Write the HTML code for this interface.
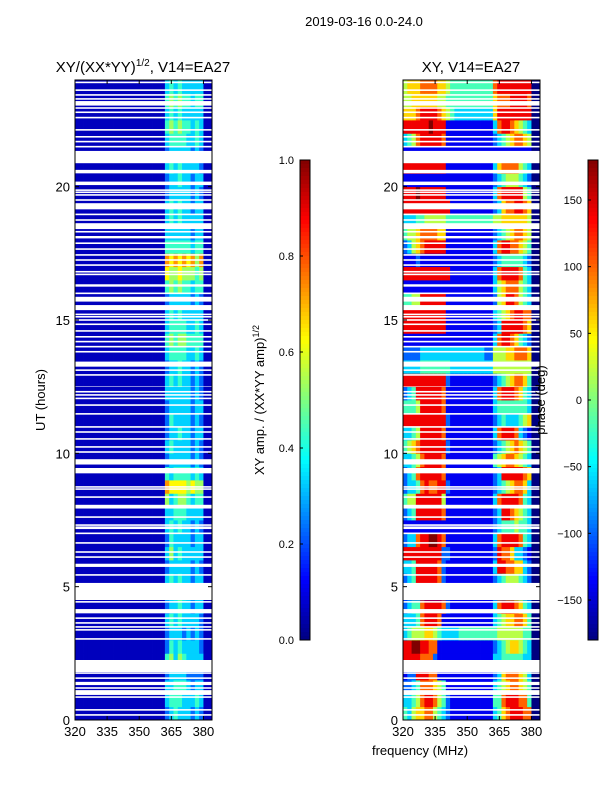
<!DOCTYPE html>
<html><head><meta charset="utf-8"><style>
body{margin:0;background:#fff;font-family:"Liberation Sans",sans-serif}
svg text{font-family:"Liberation Sans",sans-serif;fill:#000}
</style></head><body>
<svg id="fig" width="600" height="800" viewBox="0 0 600 800" xmlns="http://www.w3.org/2000/svg">
<rect width="600" height="800" fill="#fff"/>
<text x="364" y="26" font-size="13" text-anchor="middle">2019-03-16 0.0-24.0</text>
<text x="143" y="72" font-size="15" text-anchor="middle">XY/(XX*YY)<tspan dy="-6" font-size="10">1/2</tspan><tspan dy="6">, V14=EA27</tspan></text>
<text x="471" y="72" font-size="15" text-anchor="middle">XY, V14=EA27</text>
<text x="420" y="755" font-size="13" text-anchor="middle">frequency (MHz)</text>
<text transform="translate(45,400) rotate(-90)" font-size="13" text-anchor="middle">UT (hours)</text>
<text transform="translate(264,400) rotate(-90)" font-size="13" text-anchor="middle">XY amp. / (XX*YY amp)<tspan dy="-5" font-size="9">1/2</tspan></text>
<g id="lp"></g><g id="rp"></g><g id="cb"></g>
<text transform="translate(545,400) rotate(-90)" font-size="13" text-anchor="middle">phase (deg)</text>
</svg>
<script>
const freqMin = 320, freqMax = 384, hourMin = 0, hourMax = 24;
const xTicks = [320, 335, 350, 365, 380];
const yTicks = [0, 5, 10, 15, 20];
const ampTicks = [0.0, 0.2, 0.4, 0.6, 0.8, 1.0];
const phaseTicks = [-150, -100, -50, 0, 50, 100, 150];
// amplitude grid: rows 0.5h from 0h, 32 cols of 2MHz; 21 dark + 11 digits
const ampRows = ["34544434300","45554445400","44555434400","34444333300","56465444400","35454444300","34443434300","45454444300","34454434400","44565444400","45454434400","34444434300","46454444400","35444434400","45454434300","44555444400","64566545500","87777676600","54555545400","34444434300","45444434300","34454434400","35444434300","34444434400","44444434300","45454434300","34454434300","45555445400","56566555500","45555445400","45454444400","34444434300","56565545500","76676665600","87878786800","55555545500","44444434400","45454444400","45454434400","34444434300","34454434400","45454444300","34444434300","45555445400","56565545400","45454444400","56565545500","45454444400"];
const ampPrefix = "000000000000000000000";
// phase grid: digit d -> d*40-180 deg
const phaseRows = ["4356677543211 11111111 346788877 00","3345788754211 11111111 447888774 00","2234777654111 11111111 345677654 00","1228887711111 11111111 236777653 00","8888777211111 11111111 334444433 00","8899887711111 11111111 234566543 00","3455566543333 44444444 455555544 00","3334788871111 11111111 345667764 00","2344788887211 11111111 378887643 00","1111111111111 11111111 123444321 00","2348888872111 11111111 234555432 00","3348888872111 11111111 388776632 00","8888888882211 11111111 287763321 00","2337889987111 11111111 378888743 00","1111111111111 11111111 234445443 00","2348888887111 11111111 238876543 00","4558888885111 11111111 378888743 00","2334787788211 11111111 234567763 00","2347888887111 11111111 238888876 00","3345788887111 11111111 456776543 00","4567888888211 11111111 234567654 00","3345888887111 11111111 378887321 00","8888888888211 11111111 234333456 00","4445888887111 11111111 344444443 00","2348888887111 11111111 378887643 00","8888888888211 11111111 234567764 00","3333444444433 33333333 555555555 00","2222333333333 33333322 555667776 00","1111111111111 11111111 378876432 00","8888888888111 11111111 238888876 00","8888888888111 11111111 345678877 00","4455888888111 11111111 256887543 00","1111111111111 11111111 356777543 00","8888888888811 11111111 378888743 00","1112111111111 11111111 234444432 00","2356788888111 11111111 378877654 00","4556777766111 11111111 234567765 00","3334455555444 44444444 556666665 00","8888888888811 11111111 236778876 00","8889888888111 11111111 378888854 00","1111111111111 11111111 234555432 00","8888888888111 11111111 367777543 00","1111111111111 11111111 111111111 00","3457888887111 11111111 234567765 00","8888889888111 11111111 378876543 00","6667888876543 33333333 688888888 00","5566666655444 44444444 677788887 00","5666777766544 44444444 788888888 00"];
// flagged (white) intervals in hours
const flagWide = [[0.94,1.12],[1.31,1.43],[1.8,2.25],[4.0,4.16],[4.5,5.14],[5.74,5.86],[7.16,7.26],[7.93,8.07],[9.58,9.78],[9.25,9.45],[12.5,12.52],[13.25,13.44],[15.37,15.56],[15.69,15.87],[16.25,16.34],[18.06,18.15],[18.41,18.63],[19.15,19.38],[20.06,20.19],[20.5,20.63],[20.88,21.34],[23.04,23.21]];
const flagThin = [0.19,0.38,0.86,1.2,1.57,1.76,3.04,3.38,3.49,3.64,3.82,4.43,5.44,6.11,6.3,6.64,7.0,7.31,7.61,8.36,8.66,8.74,10.05,10.24,10.54,10.8,10.99,11.48,11.81,12.06,12.19,12.31,12.94,13.12,13.81,14.0,14.19,14.37,14.59,14.84,15.0,15.12,15.21,16.0,16.71,16.81,17.06,17.25,17.44,17.66,17.88,18.31,18.75,18.96,19.5,19.69,19.79,19.87,21.5,21.69,21.87,22.13,22.59,22.79,22.95,23.1,23.29,23.44,23.62,23.91];

const NS="http://www.w3.org/2000/svg";
function jet(v){v=Math.max(0,Math.min(1,v));const c=x=>Math.round(255*Math.max(0,Math.min(1,x)));
 return `rgb(${c(1.5-Math.abs(4*v-3))},${c(1.5-Math.abs(4*v-2))},${c(1.5-Math.abs(4*v-1))})`;}
function mk(parent,tag,attrs){const e=document.createElementNS(NS,tag);for(const k in attrs)e.setAttribute(k,attrs[k]);parent.appendChild(e);return e;}
const PT=80,PB=720;
const yS=h=>PB-(h-hourMin)/(hourMax-hourMin)*(PB-PT);
function drawPanel(g,x0,rows,valFn,name){
  const W=137,xS=f=>x0+(f-freqMin)/(freqMax-freqMin)*W;
  const nR=rows.length,dh=(hourMax-hourMin)/nR;
  rows.forEach((row,i)=>{
    const s=row.replace(/ /g,'');const n=s.length,df=(freqMax-freqMin)/n;
    for(let j=0;j<n;j++){
      const r=mk(g,'rect',{x:xS(freqMin+j*df),y:yS(hourMin+(i+1)*dh),width:xS(freqMin+(j+1)*df)-xS(freqMin+j*df)+0.4,height:yS(hourMin+i*dh)-yS(hourMin+(i+1)*dh)+0.4,fill:jet(valFn(+s[j]))});
      
      
    }
  });
  flagWide.forEach(f=>{const r=mk(g,'rect',{x:x0,y:yS(f[1]),width:W,height:yS(f[0])-yS(f[1]),fill:'#fff'});
    
    });
  flagThin.forEach(h=>{const r=mk(g,'rect',{x:x0,y:yS(h+0.03),width:W,height:yS(h-0.03)-yS(h+0.03),fill:'#fff'});
    
    });
  const fr=mk(g,'rect',{x:x0,y:PT,width:W,height:PB-PT,fill:'none',stroke:'#000','stroke-width':1});
  
  
  xTicks.forEach(t=>{const x=xS(t);
    mk(g,'line',{x1:x,x2:x,y1:PB,y2:PB-4,stroke:'#000'});mk(g,'line',{x1:x,x2:x,y1:PT,y2:PT+4,stroke:'#000'});
    const tx=mk(g,'text',{x:x,y:PB+16,'font-size':13,'text-anchor':'middle'});tx.textContent=t;
    
    });
  yTicks.forEach(t=>{const y=yS(t);
    mk(g,'line',{x1:x0,x2:x0+4,y1:y,y2:y,stroke:'#000'});mk(g,'line',{x1:x0+W,x2:x0+W-4,y1:y,y2:y,stroke:'#000'});
    const tx=mk(g,'text',{x:x0-5,y:y+5,'font-size':13,'text-anchor':'end'});tx.textContent=t;
    
    });
}
drawPanel(document.getElementById('lp'),75,ampRows.map(r=>ampPrefix+r),d=>d===0?0.06:d/10-0.07,'amp');
drawPanel(document.getElementById('rp'),403,phaseRows,d=>(d*40)/360,'phase');
function colorbar(g,x0,ticks,vmin,vmax,name,fmt){
  const top=160,bot=640;
  for(let i=0;i<120;i++){const r=mk(g,'rect',{x:x0,y:top+(bot-top)*i/120,width:10,height:(bot-top)/120+0.5,fill:jet(1-(i+0.5)/120)});
    
    }
  const fr=mk(g,'rect',{x:x0,y:top,width:10,height:bot-top,fill:'none',stroke:'#000'});
  
  
  ticks.forEach(t=>{const y=bot-(t-vmin)/(vmax-vmin)*(bot-top);
    mk(g,'line',{x1:x0,x2:x0+3,y1:y,y2:y,stroke:'#000'});
    const tx=mk(g,'text',{x:x0-6,y:y+4,'font-size':11,'text-anchor':'end'});tx.textContent=fmt(t);
    
    });
}
colorbar(document.getElementById('cb'),300,ampTicks,0,1,'amp-colorbar',t=>t.toFixed(1));
colorbar(document.getElementById('cb'),588,phaseTicks,-180,180,'phase-colorbar',t=>t<0?'\u2212'+(-t):String(t));
</script>
</body></html>
